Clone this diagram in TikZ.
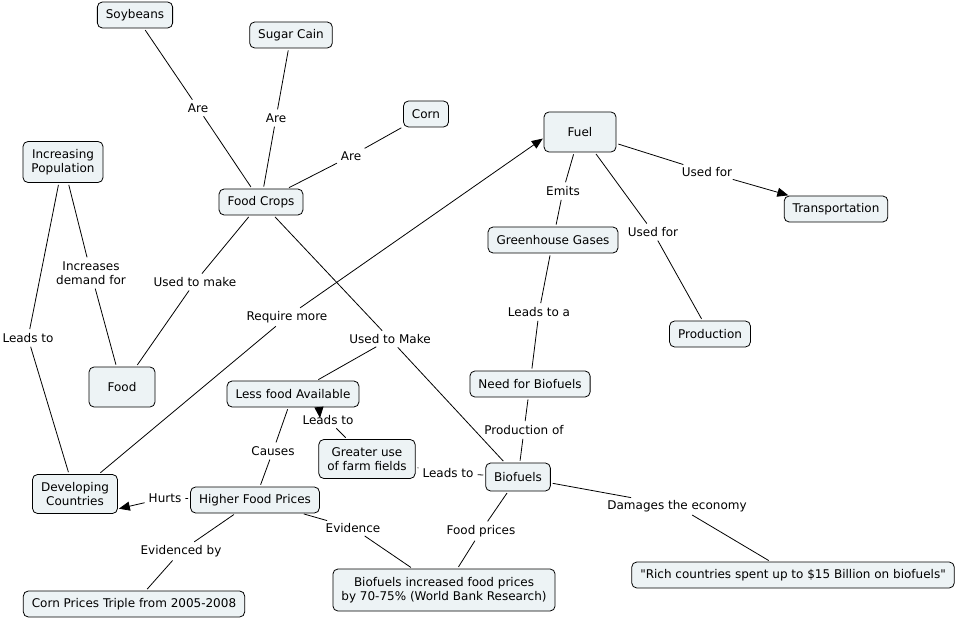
\documentclass[tikz,border=0pt]{standalone}
\usepackage{fontspec}
\setmainfont{DejaVu Sans}
\usepackage{tikz}
\usetikzlibrary{arrows.meta}
\definecolor{cmapfill}{HTML}{EDF3F5}

\begin{document}
\begin{tikzpicture}[x=1pt,y=-1pt,>={Triangle[length=11pt,width=9pt]},font=\fontsize{12}{14}\selectfont]
\tikzstyle{concept}=[draw=black,fill=cmapfill,line width=0.8pt,rounded corners=5pt,inner xsep=8.5pt,inner ysep=3pt,minimum height=26pt,align=center]
\tikzstyle{link}=[inner sep=2pt,align=center]
\tikzstyle{line}=[draw=black,line width=0.8pt,shorten >=2pt,shorten <=2pt]
\useasboundingbox (0,0) rectangle (958,620);
\node[concept] (soy) at (135,15) {Soybeans};
\node[concept] (sugar) at (291,35) {Sugar Cain};
\node[concept] (corn) at (426,114) {Corn};
\node[concept,minimum height=41pt] (pop) at (63,162) {Increasing\\Population};
\node[concept] (crops) at (261,202) {Food Crops};
\node[concept,minimum width=72pt,minimum height=40pt] (fuel) at (580,132) {Fuel};
\node[concept] (transp) at (836,209) {Transportation};
\node[concept] (ghg) at (553,240) {Greenhouse Gases};
\node[concept] (prod) at (710,334) {Production};
\node[concept] (need) at (530,384) {Need for Biofuels};
\node[concept,minimum width=66pt,minimum height=40pt] (food) at (122,387) {Food};
\node[concept] (less) at (293,394) {Less food Available};
\node[concept,minimum height=39pt] (farm) at (367,459) {Greater use\\of farm fields};
\node[concept,minimum height=28pt] (bio) at (518,477) {Biofuels};
\node[concept,minimum height=39pt] (dev) at (75,494) {Developing\\Countries};
\node[concept] (hfp) at (255,500) {Higher Food Prices};
\node[concept,minimum height=42pt] (wbr) at (444,590) {Biofuels increased food prices\\by 70-75\% (World Bank Research)};
\node[concept] (rich) at (793,575) {\textquotedbl Rich countries spent up to \$15 Billion on biofuels\textquotedbl};
\node[concept] (cornp) at (134,604) {Corn Prices Triple from 2005-2008};

\node[link] (are1) at (198,108) {Are};
\node[link] (are2) at (276,118) {Are};
\node[link] (are3) at (351,156) {Are};
\node[link] (incdem) at (91,273) {Increases\\demand for};
\node[link] (leads1) at (28,338) {Leads to};
\node[link] (make1) at (195,282) {Used to make};
\node[link] (reqmore) at (287,317) {Require more};
\node[link] (make2) at (390,339) {Used to Make};
\node[link] (leads2) at (328,420) {Leads to};
\node[link] (causes) at (273,451) {Causes};
\node[link] (leads3) at (448,473) {Leads to};
\node[link] (hurts) at (165,498) {Hurts};
\node[link] (evby) at (181,551) {Evidenced by};
\node[link] (evid) at (353,528) {Evidence};
\node[link] (fprices) at (481,531) {Food prices};
\node[link] (damages) at (677,506) {Damages the economy};
\node[link] (prodof) at (524,430) {Production of};
\node[link] (leadsa) at (539,312) {Leads to a};
\node[link] (emits) at (563,191) {Emits};
\node[link] (usedfor1) at (653,232) {Used for};
\node[link] (usedfor2) at (707,172) {Used for};

\path[line] (soy) edge (are1) (are1) edge (crops)
          (sugar) edge (are2) (are2) edge (crops)
          (corn) edge (are3) (are3) edge (crops)
          (pop) edge (incdem) (incdem) edge (food)
          (pop) edge (leads1) (leads1) edge (dev)
          (crops) edge (make1) (make1) edge (food)
          (dev) edge (reqmore)
          (crops) edge (make2) (make2) edge (bio)
          (make2) edge (less)
          (farm) edge (leads2)
          (less) edge (causes) (causes) edge (hfp)
          (bio) edge (leads3) (leads3) edge (farm)
          (hfp) edge (hurts)
          (hfp) edge (evby) (evby) edge (cornp)
          (hfp) edge (evid) (evid) edge (wbr)
          (bio) edge (fprices) (fprices) edge (wbr)
          (bio) edge (damages) (damages) edge (rich)
          (need) edge (prodof) (prodof) edge (bio)
          (ghg) edge (leadsa) (leadsa) edge (need)
          (fuel) edge (emits) (emits) edge (ghg)
          (fuel) edge (usedfor1) (usedfor1) edge (prod)
          (fuel) edge (usedfor2);
\path[line,->,shorten >=1pt] (reqmore) edge ([yshift=-6pt]fuel.west)
          (usedfor2) edge (transp)
          (hurts) edge ([yshift=5pt]dev.south east);
\draw[line,->,shorten >=0pt,shorten <=0pt] ([xshift=26pt]less.south) -- ([shift={(-8pt,2pt)}]leads2.center);
\end{tikzpicture}
\end{document}
